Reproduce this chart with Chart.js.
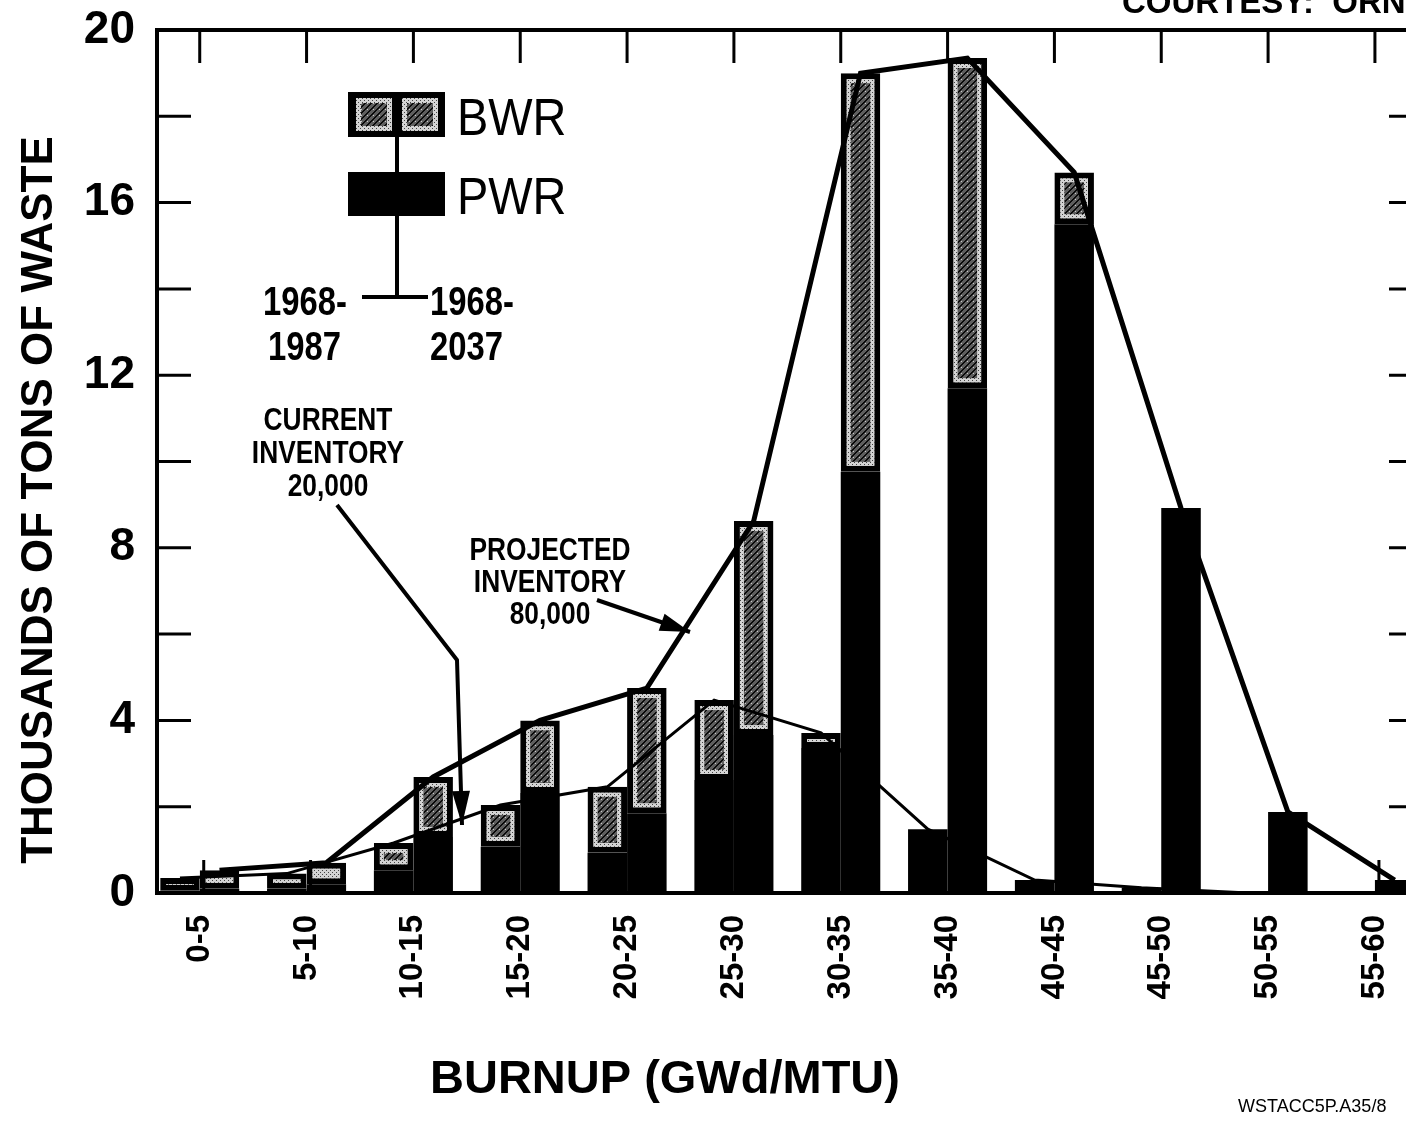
<!DOCTYPE html>
<html>
<head>
<meta charset="utf-8">
<script src="https://cdn.jsdelivr.net/npm/chart.js@4.4.1/dist/chart.umd.min.js"></script>
<style>
  html, body { margin: 0; padding: 0; background: #fff; overflow: hidden; }
  canvas { display: block; }
</style>
</head>
<body>
<canvas id="wasteChart" width="1440" height="1126"></canvas>
<script>
// burnup bins and tons of waste (thousands)
const burnupLabels = ['0-5', '5-10', '10-15', '15-20', '20-25', '25-30', '30-35', '35-40', '40-45', '45-50', '50-55', '55-60'];
const pwrCurrent   = [0.05, 0.1, 0.53, 1.07, 0.93, 2.62, 3.36, 1.48, 0.3, 0.12, 0, 0];
const bwrCurrent   = [0.3, 0.35, 0.63, 0.97, 1.53, 1.85, 0.35, 0, 0, 0, 0, 0];
const pwrProjected = [0.1, 0.2, 1.3, 2.32, 1.85, 3.66, 9.76, 11.7, 15.5, 8.92, 1.88, 0.3];
const bwrProjected = [0.43, 0.5, 1.39, 1.68, 2.9, 4.96, 9.24, 7.65, 1.2, 0, 0, 0];
const yTickValues  = [0, 4, 8, 12, 16, 20];
const yMinorTicks  = [2, 4, 6, 8, 10, 12, 14, 16, 18];

const FONT = "'Liberation Sans', Arial, Helvetica, sans-serif";
const GROUP = 0.74;            // share of a bin taken by the two bars
const SHIFT = GROUP / 4;       // centre of each bar from the bin centre

const canvas = document.getElementById('wasteChart');
const ctx = canvas.getContext('2d');

function makePattern(size, paint) {
    const c = document.createElement('canvas');
    c.width = c.height = size;
    paint(c.getContext('2d'), size);
    return ctx.createPattern(c, 'repeat');
}

// light stipple rim and dark hatched core of the BWR boxes
const rimFill = makePattern(4, function(g, s) {
    g.fillStyle = '#d4d4d4';
    g.fillRect(0, 0, s, s);
    g.fillStyle = '#444';
    g.fillRect(0, 0, 1, 1);
    g.fillRect(2, 2, 1, 1);
});
const coreFill = makePattern(6, function(g, s) {
    g.fillStyle = '#5e5e5e';
    g.fillRect(0, 0, s, s);
    g.fillStyle = '#0a0a0a';
    for (let i = 0; i < s; i++) {
        g.fillRect(i, s - 1 - i, 1, 1);
        g.fillRect(i, (s - i) % s, 1, 1);
    }
    g.fillStyle = '#c8c8c8';
    g.fillRect(1, 1, 1, 1);
});

const sum = (a, b) => a.map((v, i) => v + b[i]);
const currentTotal = sum(pwrCurrent, bwrCurrent);
const projectedTotal = sum(pwrProjected, bwrProjected);
const asBars = arr => arr.map((v, i) => ({ x: i, y: v }));
const asLine = (arr, dx) => arr.map((v, i) => ({ x: i + dx, y: v }));

function txt(c, str, x, y, size, weight, align, sx) {
    c.save();
    c.translate(x, y);
    c.scale(sx || 1, 1);
    c.font = weight + ' ' + size + 'px ' + FONT;
    c.textAlign = align;
    c.textBaseline = 'alphabetic';
    c.fillStyle = '#000';
    c.fillText(str, 0, 0);
    c.restore();
}

function arrow(c, pts, width, headLen, headHalf) {
    c.save();
    c.strokeStyle = '#000';
    c.fillStyle = '#000';
    c.lineWidth = width;
    c.lineJoin = 'round';
    c.beginPath();
    c.moveTo(pts[0][0], pts[0][1]);
    for (let i = 1; i < pts.length; i++) c.lineTo(pts[i][0], pts[i][1]);
    c.stroke();
    const [x1, y1] = pts[pts.length - 2];
    const [x2, y2] = pts[pts.length - 1];
    const a = Math.atan2(y2 - y1, x2 - x1);
    const bx = x2 - headLen * Math.cos(a), by = y2 - headLen * Math.sin(a);
    c.beginPath();
    c.moveTo(x2, y2);
    c.lineTo(bx + headHalf * Math.sin(a), by - headHalf * Math.cos(a));
    c.lineTo(bx - headHalf * Math.sin(a), by + headHalf * Math.cos(a));
    c.closePath();
    c.fill();
    c.restore();
}

// inward tick marks, drawn under the bars
const tickPlugin = {
    id: 'ticks',
    beforeDatasetsDraw(chart) {
        const { left, right, top, bottom } = chart.chartArea;
        const xs = chart.scales.x, ys = chart.scales.y;
        const c = chart.ctx;
        c.save();
        c.strokeStyle = '#000';
        c.lineWidth = 3;
        c.beginPath();
        yMinorTicks.forEach(v => {
            const py = ys.getPixelForValue(v);
            c.moveTo(left, py); c.lineTo(left + 34, py);
            c.moveTo(right, py); c.lineTo(right - 34, py);
        });
        burnupLabels.forEach((lab, i) => {
            const px = xs.getPixelForValue(i);
            c.moveTo(px, top); c.lineTo(px, top + 33);
            c.moveTo(px + 4, bottom); c.lineTo(px + 4, bottom - 33);
        });
        c.stroke();
        c.restore();
    }
};

// dark core inside each BWR box
const corePlugin = {
    id: 'bwrCore',
    afterDatasetDraw(chart, args) {
        const ds = chart.data.datasets[args.index];
        if (!ds.bwr) return;
        const c = chart.ctx;
        c.save();
        args.meta.data.forEach(el => {
            const p = el.getProps(['x', 'y', 'base', 'width'], true);
            const inset = 10;
            const l = p.x - p.width / 2 + inset, r = p.x + p.width / 2 - inset;
            const t = Math.min(p.y, p.base) + inset, b = Math.max(p.y, p.base) - inset;
            if (r - l > 2 && b - t > 2) {
                c.fillStyle = coreFill;
                c.fillRect(l, t, r - l, b - t);
            }
        });
        c.restore();
    }
};

// frame, titles, legend and notes
const decorPlugin = {
    id: 'decor',
    afterDatasetsDraw(chart) {
        const { left, right, top, bottom } = chart.chartArea;
        const c = chart.ctx;
        c.save();
        c.strokeStyle = '#000';
        c.lineWidth = 4;
        c.strokeRect(left, top, right - left, bottom - top);
        c.restore();
    },
    afterDraw(chart) {
        const c = chart.ctx;

        // axis titles
        c.save();
        c.translate(52, 500);
        c.rotate(-Math.PI / 2);
        txt(c, 'THOUSANDS OF TONS OF WASTE', 0, 0, 44, 'bold', 'center');
        c.restore();
        txt(c, 'BURNUP (GWd/MTU)', 665, 1093, 47, 'bold', 'center');

        txt(c, 'COURTESY:  ORNL', 1122, 13, 33, 'bold', 'left');
        txt(c, 'WSTACC5P.A35/8', 1238, 1112, 18, 'normal', 'left');

        // legend
        c.save();
        c.fillStyle = '#000';
        c.fillRect(348, 92, 97, 45);
        [356, 402].forEach(x => {
            c.fillStyle = rimFill;
            c.fillRect(x, 98, 36, 33);
            c.fillStyle = coreFill;
            c.fillRect(x + 5, 103, 26, 23);
        });
        c.fillStyle = '#000';
        c.fillRect(348, 172, 97, 44);
        c.fillRect(395, 137, 4, 162);
        c.fillRect(362, 295, 66, 4);
        c.restore();
        txt(c, 'BWR', 457, 135, 51, 'normal', 'left', 0.92);
        txt(c, 'PWR', 457, 214, 51, 'normal', 'left', 0.92);
        txt(c, '1968-', 347, 315, 40, 'bold', 'right', 0.82);
        txt(c, '1987', 268, 360, 40, 'bold', 'left', 0.82);
        txt(c, '1968-', 430, 315, 40, 'bold', 'left', 0.82);
        txt(c, '2037', 430, 360, 40, 'bold', 'left', 0.82);

        // inventory notes
        txt(c, 'CURRENT', 328, 430, 31, 'bold', 'center', 0.85);
        txt(c, 'INVENTORY', 328, 463, 31, 'bold', 'center', 0.85);
        txt(c, '20,000', 328, 496, 31, 'bold', 'center', 0.85);
        arrow(c, [[337, 505], [457, 660], [462, 825]], 4, 34, 9);

        txt(c, 'PROJECTED', 550, 560, 31, 'bold', 'center', 0.85);
        txt(c, 'INVENTORY', 550, 592, 31, 'bold', 'center', 0.85);
        txt(c, '80,000', 550, 624, 31, 'bold', 'center', 0.85);
        arrow(c, [[597, 600], [690, 632]], 4, 30, 9);
    }
};

const barCommon = { categoryPercentage: GROUP, barPercentage: 1, order: 1 };

new Chart(canvas, {
    type: 'bar',
    data: {
        datasets: [
            {
                type: 'line', label: 'Current inventory 20,000',
                data: asLine(currentTotal, -SHIFT), stack: 'lineCurrent',
                borderColor: '#000', borderWidth: 3, pointRadius: 0, tension: 0, order: 0
            },
            {
                type: 'line', label: 'Projected inventory 80,000',
                data: asLine(projectedTotal, SHIFT), stack: 'lineProjected',
                borderColor: '#000', borderWidth: 5, pointRadius: 0, tension: 0, order: 0
            },
            Object.assign({ label: 'PWR 1968-1987', data: asBars(pwrCurrent), stack: 'current',
                backgroundColor: '#000', borderWidth: 0 }, barCommon),
            Object.assign({ label: 'BWR 1968-1987', data: asBars(bwrCurrent), stack: 'current', bwr: true,
                backgroundColor: rimFill, borderColor: '#000', borderWidth: 6, borderSkipped: false }, barCommon),
            Object.assign({ label: 'PWR 1968-2037', data: asBars(pwrProjected), stack: 'projected',
                backgroundColor: '#000', borderWidth: 0 }, barCommon),
            Object.assign({ label: 'BWR 1968-2037', data: asBars(bwrProjected), stack: 'projected', bwr: true,
                backgroundColor: rimFill, borderColor: '#000', borderWidth: 6, borderSkipped: false }, barCommon)
        ]
    },
    options: {
        responsive: false,
        animation: false,
        layout: { padding: { left: 0, top: 30, right: 17, bottom: 0 } },
        plugins: {
            legend: { display: false },
            tooltip: { enabled: false }
        },
        scales: {
            x: {
                type: 'linear',
                min: -0.4,
                max: 11.45,
                offset: false,
                grid: { display: false, drawTicks: false },
                border: { display: false },
                afterBuildTicks: s => { s.ticks = burnupLabels.map((lab, i) => ({ value: i })); },
                afterFit: s => { s.height = 233; },
                ticks: {
                    autoSkip: false,
                    minRotation: 90,
                    maxRotation: 90,
                    padding: 22,
                    color: '#000',
                    font: { family: FONT, size: 33, weight: 'bold' },
                    callback: v => burnupLabels[v]
                }
            },
            y: {
                stacked: true,
                min: 0,
                max: 20,
                grid: { display: false, drawTicks: false },
                border: { display: false },
                afterBuildTicks: s => { s.ticks = yTickValues.map(v => ({ value: v })); },
                afterFit: s => { s.width = 157; },
                ticks: {
                    padding: 22,
                    color: '#000',
                    font: { family: FONT, size: 46, weight: 'bold', lineHeight: 0.2 }
                }
            }
        }
    },
    plugins: [tickPlugin, corePlugin, decorPlugin]
});
</script>
</body>
</html>
